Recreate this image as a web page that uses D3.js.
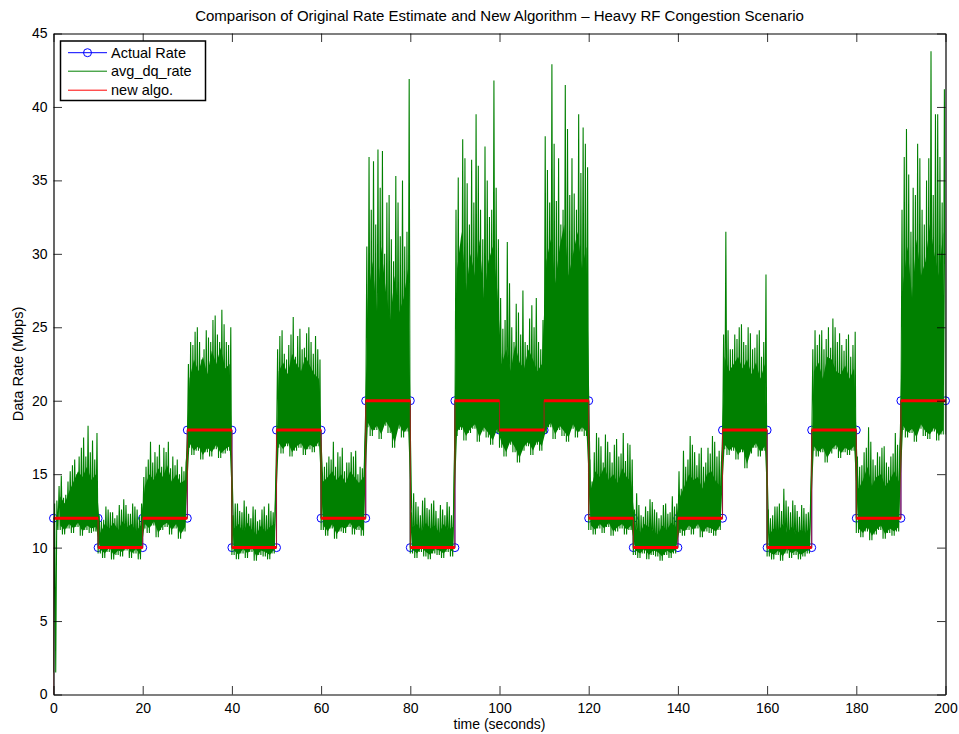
<!DOCTYPE html>
<html>
<head>
<meta charset="utf-8">
<script src="https://cdn.jsdelivr.net/npm/d3@7/dist/d3.min.js"></script>
<style>
  html, body { margin: 0; padding: 0; background: #fff; }
  svg { display: block; font-family: "Liberation Sans", Arial, Helvetica, sans-serif; }
</style>
</head>
<body>
<svg id="chart" width="959" height="734"></svg>
<script>
// ---------------- DATA ----------------
const titleText = "Comparison of Original Rate Estimate and New Algorithm \u2013 Heavy RF Congestion Scenario";
const xLabelText = "time (seconds)";
const yLabelText = "Data Rate (Mbps)";
const xTicks = [0, 20, 40, 60, 80, 100, 120, 140, 160, 180, 200];
const yTicks = [0, 5, 10, 15, 20, 25, 30, 35, 40, 45];
const legendLabels = ["Actual Rate", "avg_dq_rate", "new algo."];

// segment boundaries (s) and actual rate per 10 s segment (Mbps)
const segStart = [0,10,20,30,40,50,60,70,80,90,100,110,120,130,140,150,160,170,180,190];
const segEnd   = [10,20,30,40,50,60,70,80,90,100,110,120,130,140,150,160,170,180,190,200];
const actualRate = [12,10,12,18,10,18,12,20,10,20,18,20,12,10,12,18,10,18,12,20];
// new algorithm estimate per segment (Mbps)
const newAlgo = [12.0,10.0,12.0,18.0,10.0,18.0,12.0,20.0,10.0,20.0,18.0,20.0,12.0,10.0,12.0,18.0,10.0,18.0,12.0,20.0];
const newAlgoStartValue = 0;

// avg_dq_rate, read per second (t = 0..199): tallest spike, second spike, top of dense band, bottom
const greenPeak = [
  13.2,14.9,13.6,15.2,16.0,16.2,17.5,18.3,17.3,17.8,
  11.8,12.8,12.4,12.0,12.9,13.3,12.3,13.0,12.6,13.0,
  15.5,17.2,16.5,17.0,16.8,17.2,16.2,16.0,15.5,15.8,
  24.0,24.7,24.0,23.5,24.3,25.5,24.5,26.2,24.0,25.0,
  13.0,12.5,13.2,12.3,12.8,11.8,12.6,12.2,12.5,13.5,
  24.4,23.2,23.8,25.7,24.4,23.5,24.6,24.0,24.4,22.8,
  15.5,16.2,17.2,16.5,16.8,15.8,16.5,16.6,15.5,16.0,
  36.6,36.3,37.1,37.0,33.5,31.0,35.3,31.2,30.5,41.9,
  13.7,12.8,13.2,12.7,13.0,12.5,12.9,12.2,12.8,12.5,
  35.2,37.8,34.8,36.4,39.5,33.0,37.3,32.5,41.8,31.0,
  24.9,30.8,25.0,26.6,24.5,24.0,25.6,25.0,24.0,25.5,
  35.7,42.9,33.6,32.0,41.5,34.0,34.1,39.5,38.6,35.9,
  14.5,17.8,16.9,17.7,16.5,17.0,16.2,17.8,17.1,16.0,
  13.7,12.2,12.8,13.3,12.6,12.0,12.9,12.3,13.5,13.0,
  14.0,15.5,17.6,16.5,16.4,15.5,16.8,17.6,16.2,15.8,
  31.5,23.5,24.5,25.0,24.0,25.0,23.5,24.5,23.0,28.6,
  12.0,12.8,13.0,14.0,12.8,13.2,12.5,12.9,12.3,13.2,
  24.8,24.5,23.5,25.0,25.6,24.0,23.8,24.2,23.0,24.7,
  15.5,16.5,18.2,16.0,16.5,16.8,15.8,16.2,17.8,16.5,
  36.6,35.4,34.5,37.5,33.0,35.0,43.8,39.5,36.6,41.2
];
const greenMid = [
  13.0,14.2,13.4,14.5,15.6,15.0,16.8,16.2,16.5,16.0,
  12.2,11.9,12.6,12.4,12.2,12.6,12.9,12.3,12.8,12.1,
  14.8,16.0,15.8,16.2,15.5,16.5,15.4,15.6,15.0,15.2,
  22.5,23.8,25.0,22.8,24.8,24.0,25.8,24.0,25.2,23.8,
  12.2,13.0,12.4,12.8,12.0,12.6,11.9,12.8,13.0,12.4,
  23.5,24.8,22.8,24.5,23.0,24.9,23.6,25.0,23.2,23.5,
  15.0,15.8,16.0,15.5,16.2,15.2,15.8,16.2,15.0,15.4,
  30.5,33.0,32.0,34.5,30.0,34.0,29.5,33.5,35.0,31.5,
  12.4,13.1,12.2,13.4,12.6,13.2,12.0,12.6,13.1,12.2,
  33.0,30.5,36.5,32.0,33.5,36.0,31.0,35.0,33.0,34.5,
  27.0,25.5,28.0,24.0,26.0,27.5,23.8,26.5,27.0,23.5,
  38.0,33.5,37.5,36.5,33.0,38.5,36.5,33.0,35.5,37.5,
  16.0,16.5,17.5,15.8,17.2,15.8,17.4,16.4,15.9,17.0,
  12.6,12.9,12.1,12.5,13.1,12.4,12.2,13.0,12.4,12.8,
  15.2,16.6,16.0,17.0,15.6,16.8,15.8,16.4,17.2,16.6,
  24.5,24.8,23.5,24.2,25.2,23.8,24.6,23.6,24.8,24.0,
  12.6,12.2,12.8,12.5,13.2,12.4,12.9,12.1,12.7,12.4,
  23.5,23.8,24.8,24.2,23.6,25.0,24.6,23.4,24.5,23.8,
  16.2,15.6,16.8,17.2,15.6,16.2,16.9,15.5,16.4,17.0,
  33.0,38.5,31.5,34.0,36.5,32.0,36.5,34.0,39.5,33.5
];
const greenCore = [
  12.8,13.5,13.0,13.8,14.5,15.2,14.8,15.5,14.6,15.0,
  11.0,11.6,11.3,11.7,11.2,11.8,11.4,11.6,11.1,11.5,
  14.2,15.0,14.6,15.4,14.8,15.6,14.5,15.0,14.4,14.6,
  21.5,22.8,22.0,23.0,21.8,23.4,22.5,23.6,22.2,22.5,
  11.3,11.6,11.0,11.7,11.2,10.9,11.5,11.1,11.4,11.6,
  22.0,22.6,21.8,23.2,22.5,22.0,23.0,22.4,21.8,21.5,
  14.5,14.8,15.2,14.6,15.0,14.4,15.2,14.8,14.4,14.8,
  27.0,29.5,26.0,30.5,27.5,25.5,28.5,26.0,27.0,29.0,
  11.4,11.6,11.1,11.7,11.3,11.5,11.0,11.6,11.2,11.4,
  29.0,31.5,27.5,30.0,28.5,31.0,27.0,29.5,30.5,27.5,
  22.5,23.5,22.0,23.8,22.6,22.2,23.5,22.8,22.0,22.5,
  29.5,31.0,28.0,30.5,32.0,28.5,30.0,31.5,29.0,30.5,
  14.0,15.2,14.8,15.5,14.6,15.0,14.4,15.4,14.8,14.5,
  11.3,11.0,11.6,11.4,11.1,10.9,11.5,11.2,11.7,11.4,
  13.5,14.2,15.0,14.6,14.8,14.0,15.0,15.2,14.5,14.2,
  23.0,22.0,22.5,23.0,22.2,22.8,21.8,22.6,21.5,22.5,
  10.9,11.3,11.1,11.6,11.0,11.4,10.9,11.2,11.0,11.3,
  22.0,22.6,21.5,23.0,22.8,22.0,21.8,22.4,21.5,22.2,
  14.0,14.6,15.5,14.2,14.8,15.0,14.2,14.6,15.2,14.5,
  28.0,30.5,27.0,31.0,28.5,29.5,32.0,30.0,28.5,31.5
];
const greenLow = [
  1.5,11.2,10.9,11.3,11.0,11.4,10.8,11.2,11.0,11.1,
  9.6,9.3,9.7,9.2,9.5,9.4,9.8,9.3,9.6,9.2,
  11.3,11.0,11.5,10.7,11.2,11.4,10.9,11.3,10.6,11.1,
  16.8,16.3,16.6,16.0,16.5,16.2,16.7,16.1,16.4,16.6,
  9.5,9.2,9.6,9.3,9.7,9.1,9.5,9.4,9.2,9.6,
  16.8,16.4,16.9,16.2,16.6,16.8,16.3,16.7,16.5,16.9,
  11.2,10.8,11.3,10.6,11.1,11.0,11.4,10.9,11.2,10.8,
  18.2,17.6,18.0,17.4,18.3,17.8,16.8,18.1,17.5,17.9,
  9.6,9.3,9.7,9.4,9.2,9.6,9.5,9.3,9.7,9.4,
  17.6,18.0,17.3,17.8,18.1,17.2,17.9,17.5,17.0,17.8,
  16.8,16.2,17.0,16.5,15.8,16.6,16.9,16.3,17.0,16.6,
  17.8,18.2,17.4,18.0,17.6,17.2,18.1,17.5,17.9,17.6,
  11.2,10.9,11.3,11.0,11.4,10.8,11.1,11.3,10.9,11.2,
  9.5,9.3,9.6,9.2,9.5,9.4,9.1,9.5,9.3,9.6,
  11.0,10.8,11.2,10.9,11.3,10.7,11.1,11.0,10.8,11.2,
  16.7,16.3,16.6,16.0,16.5,15.4,16.4,16.8,16.2,16.6,
  9.4,9.2,9.5,9.1,9.6,9.3,9.5,9.2,9.4,9.6,
  16.6,16.2,16.5,15.8,16.4,16.7,16.1,16.5,16.3,16.6,
  11.0,10.7,11.1,10.5,10.9,11.2,10.6,11.0,10.8,11.1,
  18.0,17.5,17.8,17.2,18.1,17.6,17.4,17.9,17.3,17.7
];

// ---------------- CHART ----------------
const svg = d3.select("#chart");
const L = 53.5, R = 945.5, T = 33.5, B = 694.5;
const x = d3.scaleLinear().domain([0, 200]).range([L, R]);
const y = d3.scaleLinear().domain([0, 45]).range([B, T]);

svg.append("clipPath").attr("id", "plotclip")
  .append("rect").attr("x", L).attr("y", T).attr("width", R - L).attr("height", B - T);

const line = d3.line().x(d => x(d[0])).y(d => y(d[1]));

// Actual rate points (segment start/end) - markers are not clipped (as in MATLAB)
const actualPts = [];
actualRate.forEach((r, i) => { actualPts.push([segStart[i], r]); actualPts.push([segEnd[i], r]); });
const actG = svg.append("g");
actG.append("path").datum(actualPts).attr("d", line)
  .attr("fill", "none").attr("stroke", "#0000ff").attr("stroke-width", 1);
actG.selectAll("circle.act").data(actualPts).enter().append("circle")
  .attr("class", "act").attr("cx", d => x(d[0])).attr("cy", d => y(d[1])).attr("r", 4)
  .attr("fill", "none").attr("stroke", "#0000ff").attr("stroke-width", 1);

const plot = svg.append("g").attr("clip-path", "url(#plotclip)");

// avg_dq_rate: dense band (area) + spike trace
const green = "#008000";
const bandPts = greenCore.map((c, t) => ({ t: t + 0.5, lo: greenLow[t], hi: c, ok: t > 0 }));
const band = d3.area().defined(d => d.ok)
  .x(d => x(d.t)).y0(d => y(d.lo + 0.3)).y1(d => y(d.hi));
plot.append("path").datum(bandPts).attr("d", band).attr("fill", green).attr("stroke", "none");

const greenPts = [];
greenPeak.forEach((p, t) => {
  greenPts.push([t, greenLow[t]]);
  greenPts.push([t + 0.25, greenMid[t]]);
  greenPts.push([t + 0.5, greenLow[t]]);
  greenPts.push([t + 0.75, p]);
});
greenPts.push([200, greenLow[199]]);
plot.append("path").datum(greenPts).attr("d", line)
  .attr("fill", "none").attr("stroke", green).attr("stroke-width", 1.1);

// new algo red step
const redPts = [[0, newAlgoStartValue]];
newAlgo.forEach((v, i) => { redPts.push([segStart[i], v]); redPts.push([segEnd[i], v]); });
plot.append("path").datum(redPts).attr("d", line)
  .attr("fill", "none").attr("stroke", "#b01818").attr("stroke-width", 1.1).attr("stroke-opacity", 0.85);
plot.selectAll("line.redh").data(newAlgo).enter().append("line")
  .attr("class", "redh")
  .attr("x1", (d, i) => x(segStart[i])).attr("x2", (d, i) => x(segEnd[i]))
  .attr("y1", d => y(d)).attr("y2", d => y(d))
  .attr("stroke", "#ff0000").attr("stroke-width", 3);

// ---------------- AXES ----------------
const tickLen = 8.5;
const fmt = d3.format("d");
const axB = svg.append("g").attr("transform", `translate(0,${B})`)
  .call(d3.axisBottom(x).tickValues(xTicks).tickFormat(fmt).tickSizeInner(-tickLen).tickSizeOuter(0).tickPadding(9));
const axT = svg.append("g").attr("transform", `translate(0,${T})`)
  .call(d3.axisTop(x).tickValues(xTicks).tickFormat("").tickSizeInner(-tickLen).tickSizeOuter(0));
const axL = svg.append("g").attr("transform", `translate(${L},0)`)
  .call(d3.axisLeft(y).tickValues(yTicks).tickFormat(fmt).tickSizeInner(-tickLen).tickSizeOuter(0).tickPadding(6));
const axR = svg.append("g").attr("transform", `translate(${R},0)`)
  .call(d3.axisRight(y).tickValues(yTicks).tickFormat("").tickSizeInner(-tickLen).tickSizeOuter(0));
[axB, axT, axL, axR].forEach(a => {
  a.select(".domain").attr("stroke", "#000").attr("stroke-width", 1.2);
  a.selectAll(".tick line").attr("stroke", "#000").attr("stroke-width", 0.8);
  a.selectAll("text").attr("font-size", 14).attr("fill", "#000")
    .attr("font-family", "'Liberation Sans', Arial, Helvetica, sans-serif");
});

// Title and labels
svg.append("text").attr("x", (L + R) / 2).attr("y", 21).attr("text-anchor", "middle")
  .attr("font-size", 15).attr("fill", "#000").text(titleText);
svg.append("text").attr("x", (L + R) / 2).attr("y", 729).attr("text-anchor", "middle")
  .attr("font-size", 14).attr("fill", "#000").text(xLabelText);
svg.append("text").attr("transform", `translate(23,${(T + B) / 2}) rotate(-90)`).attr("text-anchor", "middle")
  .attr("font-size", 14.5).attr("fill", "#000").text(yLabelText);

// ---------------- LEGEND ----------------
const lg = svg.append("g");
const lx = 60.5, ly = 41, lw = 145, lh = 59.5;
lg.append("rect").attr("x", lx).attr("y", ly).attr("width", lw).attr("height", lh)
  .attr("fill", "#fff").attr("stroke", "#000").attr("stroke-width", 1.5);
const legColors = ["#0000ff", "#008000", "#ff0000"];
const rowY = [52.7, 71.2, 90.2];
legendLabels.forEach((lab, i) => {
  lg.append("line").attr("x1", 68).attr("x2", 107).attr("y1", rowY[i]).attr("y2", rowY[i])
    .attr("stroke", legColors[i]).attr("stroke-width", 1);
  if (i === 0) {
    lg.append("circle").attr("cx", 87.5).attr("cy", rowY[i]).attr("r", 4)
      .attr("fill", "none").attr("stroke", "#0000ff").attr("stroke-width", 1);
  }
  lg.append("text").attr("x", 111).attr("y", rowY[i]).attr("dy", "0.36em")
    .attr("font-size", 14.5).attr("fill", "#000").text(lab);
});
</script>
</body>
</html>
